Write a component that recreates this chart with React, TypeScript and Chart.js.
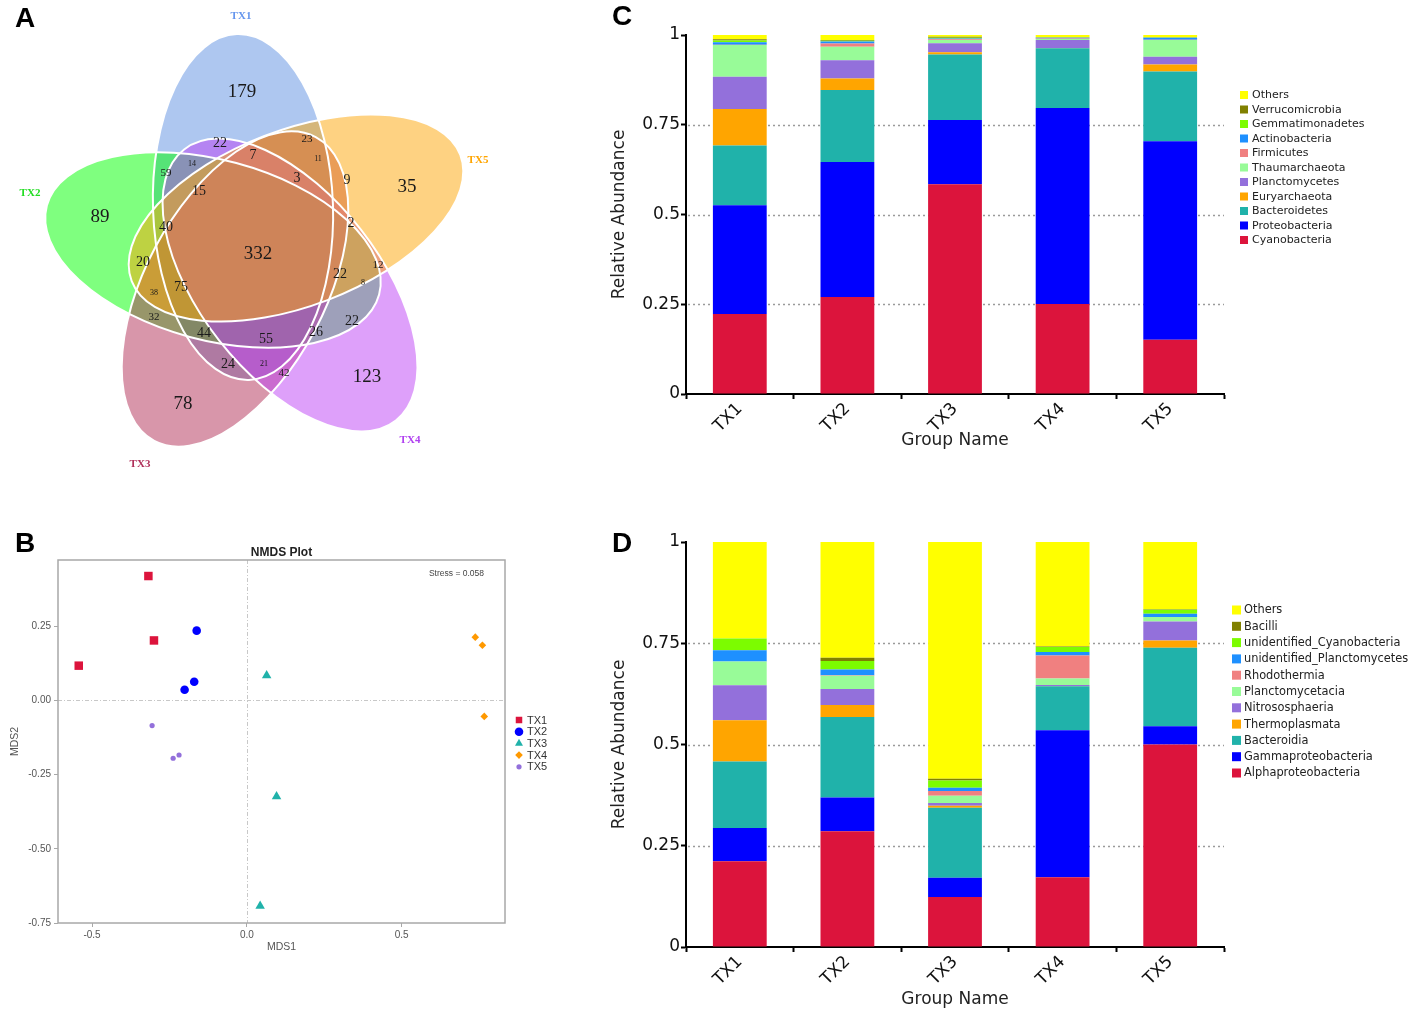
import React, { useEffect, useRef } from 'react';
import { Chart, registerables } from 'chart.js';
import * as helpers from 'chart.js/helpers';

Chart.register(...registerables);

// ---------------- DATA ----------------
const groups = ['TX1', 'TX2', 'TX3', 'TX4', 'TX5'];

// Panel A: Venn counts
const vennSets = ['TX1', 'TX2', 'TX3', 'TX4', 'TX5'];
const vennCounts = [179, 89, 78, 123, 35, 332, 22, 7, 23, 11, 14, 59, 15, 3, 9, 40, 2, 20, 12, 22, 8, 38, 75, 32, 44, 55, 26, 22, 24, 21, 42];

// Panel B: NMDS coordinates
const nmdsTX1 = [{ x: -0.318, y: 0.419 }, { x: -0.300, y: 0.202 }, { x: -0.543, y: 0.117 }];
const nmdsTX2 = [{ x: -0.162, y: 0.235 }, { x: -0.170, y: 0.063 }, { x: -0.201, y: 0.036 }];
const nmdsTX3 = [{ x: 0.064, y: 0.084 }, { x: 0.096, y: -0.324 }, { x: 0.043, y: -0.693 }];
const nmdsTX4 = [{ x: 0.738, y: 0.213 }, { x: 0.761, y: 0.186 }, { x: 0.767, y: -0.054 }];
const nmdsTX5 = [{ x: -0.306, y: -0.085 }, { x: -0.238, y: -0.195 }, { x: -0.219, y: -0.184 }];
const nmdsXTicks = [-0.5, 0, 0.5];
const nmdsYTicks = [-0.75, -0.5, -0.25, 0, 0.25];
const stressValue = 0.058;

// Panel C: phylum level relative abundance
const phylumLabels = ['Cyanobacteria', 'Proteobacteria', 'Bacteroidetes', 'Euryarchaeota', 'Planctomycetes', 'Thaumarchaeota', 'Firmicutes', 'Actinobacteria', 'Gemmatimonadetes', 'Verrucomicrobia', 'Others'];
const pCyanobacteria = [0.223, 0.270, 0.584, 0.251, 0.151];
const pProteobacteria = [0.303, 0.3765, 0.179, 0.546, 0.553];
const pBacteroidetes = [0.166, 0.200, 0.183, 0.166, 0.194];
const pEuryarchaeota = [0.102, 0.0325, 0.006, 0.001, 0.020];
const pPlanctomycetes = [0.090, 0.051, 0.025, 0.022, 0.0215];
const pThaumarchaeota = [0.088, 0.037, 0.009, 0.003, 0.0465];
const pFirmicutes = [0.001, 0.009, 0.002, 0.001, 0.001];
const pActinobacteria = [0.007, 0.006, 0.002, 0.002, 0.0055];
const pGemmatimonadetes = [0.005, 0.002, 0.002, 0.001, 0.0005];
const pVerrucomicrobia = [0.003, 0.002, 0.003, 0.001, 0.0005];
const pOthers = [0.012, 0.014, 0.005, 0.006, 0.0065];

// Panel D: class level relative abundance
const classLabels = ['Alphaproteobacteria', 'Gammaproteobacteria', 'Bacteroidia', 'Thermoplasmata', 'Nitrososphaeria', 'Planctomycetacia', 'Rhodothermia', 'unidentified_Planctomycetes', 'unidentified_Cyanobacteria', 'Bacilli', 'Others'];
const cAlphaproteobacteria = [0.2115, 0.286, 0.1235, 0.172, 0.500];
const cGammaproteobacteria = [0.0825, 0.083, 0.0475, 0.363, 0.045];
const cBacteroidia = [0.164, 0.199, 0.173, 0.1087, 0.194];
const cThermoplasmata = [0.102, 0.0295, 0.005, 0.001, 0.018];
const cNitrososphaeria = [0.086, 0.0395, 0.0066, 0.002, 0.047];
const cPlanctomycetacia = [0.059, 0.033, 0.018, 0.016, 0.011];
const cRhodothermia = [0.0, 0.001, 0.0113, 0.0573, 0.0];
const cUnidPlanctomycetes = [0.0275, 0.014, 0.0084, 0.0084, 0.008];
const cUnidCyanobacteria = [0.0295, 0.021, 0.0181, 0.0123, 0.010];
const cBacilli = [0.0, 0.008, 0.004, 0.001, 0.001];
const cOthers = [0.238, 0.286, 0.5845, 0.2583, 0.166];

const abundanceTicks = [0, 0.25, 0.5, 0.75, 1];

// ---------------- STYLE / LAYOUT ----------------
const taxonColors = ['#DC143C', '#0000FF', '#20B2AA', '#FFA500', '#9370DB', '#98FB98', '#F08080', '#1E90FF', '#7CFC00', '#808000', '#FFFF00'];

const vennFill = ['rgb(93,143,225)', 'rgb(0,255,0)', 'rgb(177,45,85)', 'rgb(189,65,245)', 'rgb(253,165,5)'];
const vennNameColor = ['#6495ED', '#22DD22', '#B0305A', '#B040F0', '#FFA500'];
// ellipse geometry in venn coordinate space: cx, cy, a, b, rotation(deg)
const vennEllipses = [
  [243, 207, 173, 90, 88],
  [213, 250, 172, 90, 15],
  [235, 289, 172, 90, -62],
  [290, 285, 172, 90, 52],
  [296, 218, 176, 88, -21],
];
const vennNamePos = [[241, 16], [30, 193], [140, 464], [410, 440], [478, 160]];
// label positions [x, y, fontSize]
const vennLabelPos = [
  [242, 92, 19], [100, 217, 19], [183, 404, 19], [367, 377, 19], [407, 187, 19], [258, 254, 19],
  [220, 143, 14], [253, 155, 14], [307, 139, 11], [318, 159, 8], [192, 164, 8], [166, 173, 11],
  [199, 191, 14], [297, 178, 14], [347, 180, 14], [166, 227, 14], [351, 223, 14], [143, 262, 14],
  [378, 265, 11], [340, 274, 14], [363, 283, 8], [154, 293, 8], [181, 287, 14], [154, 317, 11],
  [204, 333, 14], [266, 339, 14], [316, 332, 14], [352, 321, 14], [228, 364, 14], [264, 364, 8],
  [284, 373, 11],
];

const nmdsStyles = [
  { color: '#DC143C', pointStyle: 'rect', radius: 6 },
  { color: '#0000FF', pointStyle: 'circle', radius: 4.3 },
  { color: '#20B2AA', pointStyle: 'triangle', radius: 5.5 },
  { color: '#FF9900', pointStyle: 'rectRot', radius: 3.8 },
  { color: '#9370DB', pointStyle: 'circle', radius: 2.6 },
];

const SANS = '"DejaVu Sans", sans-serif';
const LSANS = '"Liberation Sans", Arial, sans-serif';
const SERIF = '"Liberation Serif", "DejaVu Serif", serif';

// ---------------- PLUGINS ----------------
const vennPlugin = {
  id: 'vennShapes',
  beforeDatasetsDraw(chart: any) {
    const { ctx } = chart;
    const xs = chart.scales.x;
    const ys = chart.scales.y;
    const k = xs.getPixelForValue(1) - xs.getPixelForValue(0);
    const path = (e: number[]) => {
      ctx.beginPath();
      ctx.ellipse(xs.getPixelForValue(e[0]), ys.getPixelForValue(e[1]), e[2] * k, e[3] * k, (e[4] * Math.PI) / 180, 0, Math.PI * 2);
    };
    ctx.save();
    vennEllipses.forEach((e, i) => {
      path(e);
      ctx.globalAlpha = 0.5;
      ctx.fillStyle = vennFill[i];
      ctx.fill();
    });
    ctx.globalAlpha = 1;
    ctx.strokeStyle = '#ffffff';
    ctx.lineWidth = 2;
    vennEllipses.forEach((e) => {
      path(e);
      ctx.stroke();
    });
    ctx.restore();
  },
  afterDatasetsDraw(chart: any) {
    const { ctx } = chart;
    const meta = chart.getDatasetMeta(0);
    ctx.save();
    ctx.textAlign = 'center';
    ctx.textBaseline = 'middle';
    ctx.fillStyle = '#1a1a1a';
    meta.data.forEach((pt: any, i: number) => {
      ctx.font = `${vennLabelPos[i][2]}px ${SERIF}`;
      ctx.fillText(String(vennCounts[i]), pt.x, pt.y);
    });
    const xs = chart.scales.x;
    const ys = chart.scales.y;
    ctx.font = `bold 11px ${SERIF}`;
    vennSets.forEach((n, i) => {
      ctx.fillStyle = vennNameColor[i];
      ctx.fillText(n, xs.getPixelForValue(vennNamePos[i][0]), ys.getPixelForValue(vennNamePos[i][1]));
    });
    ctx.restore();
  },
};

function dashedGrid(values: number[]) {
  return {
    id: 'dashedGrid',
    beforeDatasetsDraw(chart: any) {
      const { ctx, chartArea } = chart;
      const y = chart.scales.y;
      ctx.save();
      ctx.strokeStyle = '#9a9a9a';
      ctx.lineWidth = 1.6;
      ctx.setLineDash([2, 3]);
      values.forEach((v) => {
        const py = Math.round(y.getPixelForValue(v)) + 0.5;
        ctx.beginPath();
        ctx.moveTo(chartArea.left + 2, py);
        ctx.lineTo(chartArea.right, py);
        ctx.stroke();
      });
      ctx.restore();
    },
  };
}

function boxLegend(dx: number, dy: number, step: number, box: number, gap: number, fontSize: number) {
  return {
    id: 'boxLegend',
    afterDraw(chart: any) {
      const { ctx, chartArea } = chart;
      const x = chartArea.right + dx;
      const y0 = chartArea.top + dy;
      const ds = chart.data.datasets.slice().reverse();
      ctx.save();
      ctx.font = `${fontSize}px ${SANS}`;
      ctx.textBaseline = 'middle';
      ctx.textAlign = 'left';
      ds.forEach((d: any, i: number) => {
        const cy = y0 + i * step;
        ctx.fillStyle = d.backgroundColor;
        ctx.fillRect(x, cy - box / 2, box, box);
        ctx.fillStyle = '#222';
        ctx.fillText(d.label, x + box + gap, cy + 0.5);
      });
      ctx.restore();
    },
  };
}

const nmdsDecor = {
  id: 'nmdsDecor',
  beforeDatasetsDraw(chart: any) {
    const { ctx, chartArea } = chart;
    const xs = chart.scales.x;
    const ys = chart.scales.y;
    ctx.save();
    ctx.strokeStyle = '#c8c8c8';
    ctx.lineWidth = 1;
    ctx.setLineDash([4, 2, 1, 2]);
    const px = Math.round(xs.getPixelForValue(0)) + 0.5;
    const py = Math.round(ys.getPixelForValue(0)) + 0.5;
    ctx.beginPath();
    ctx.moveTo(px, chartArea.top);
    ctx.lineTo(px, chartArea.bottom);
    ctx.moveTo(chartArea.left, py);
    ctx.lineTo(chartArea.right, py);
    ctx.stroke();
    ctx.setLineDash([]);
    ctx.strokeStyle = '#a8a8a8';
    ctx.lineWidth = 1.5;
    ctx.strokeRect(chartArea.left, chartArea.top, chartArea.right - chartArea.left, chartArea.bottom - chartArea.top);
    ctx.fillStyle = '#222';
    ctx.font = `bold 12px ${LSANS}`;
    ctx.textAlign = 'center';
    ctx.textBaseline = 'middle';
    ctx.fillText('NMDS Plot', (chartArea.left + chartArea.right) / 2, chartArea.top - 7);
    ctx.font = `8.5px ${LSANS}`;
    ctx.fillStyle = '#444';
    ctx.textAlign = 'right';
    ctx.fillText(`Stress = ${stressValue.toFixed(3)}`, chartArea.right - 21, chartArea.top + 14);
    ctx.restore();
  },
  afterDraw(chart: any) {
    const { ctx, chartArea } = chart;
    const x = chartArea.right + 14;
    const y0 = chartArea.top + 160;
    ctx.save();
    ctx.font = `11px ${LSANS}`;
    ctx.textBaseline = 'middle';
    ctx.textAlign = 'left';
    chart.data.datasets.forEach((d: any, i: number) => {
      const cy = y0 + i * 11.7;
      ctx.fillStyle = d.backgroundColor;
      const r = Math.min(d.pointRadius, 4.6);
      helpers.drawPoint(ctx, { pointStyle: d.pointStyle, radius: d.pointStyle === 'circle' && i === 4 ? 2.6 : r, rotation: 0, borderWidth: 0 }, x, cy);
      ctx.fillStyle = '#333';
      ctx.fillText(d.label, x + 8, cy + 0.5);
    });
    ctx.restore();
  },
};

// ---------------- CONFIG BUILDERS ----------------
function vennConfig(): any {
  return {
    type: 'scatter',
    data: { datasets: [{ data: vennLabelPos.map((p) => ({ x: p[0], y: p[1] })), pointRadius: 0 }] },
    options: {
      animation: false,
      responsive: false,
      events: [],
      layout: { padding: 0 },
      scales: {
        x: { type: 'linear', display: false, min: 0, max: 500 },
        y: { type: 'linear', display: false, min: 0, max: 480, reverse: true },
      },
      plugins: { legend: { display: false }, tooltip: { enabled: false } },
    },
    plugins: [vennPlugin],
  };
}

function nmdsConfig(): any {
  const series = [nmdsTX1, nmdsTX2, nmdsTX3, nmdsTX4, nmdsTX5];
  const tickFont = { family: LSANS, size: 10 };
  return {
    type: 'scatter',
    data: {
      datasets: series.map((d, i) => ({
        label: groups[i],
        data: d,
        backgroundColor: nmdsStyles[i].color,
        borderWidth: 0,
        pointStyle: nmdsStyles[i].pointStyle,
        pointRadius: nmdsStyles[i].radius,
      })),
    },
    options: {
      animation: false,
      responsive: false,
      events: [],
      layout: { padding: { left: 0, right: 55, top: 30, bottom: 0 } },
      scales: {
        x: {
          type: 'linear',
          min: -0.61,
          max: 0.834,
          afterBuildTicks: (s: any) => { s.ticks = nmdsXTicks.map((v) => ({ value: v })); },
          afterFit: (s: any) => { s.height = 47; },
          grid: { display: true, drawOnChartArea: false, tickLength: 4, tickColor: '#a8a8a8', tickWidth: 1 },
          border: { display: false },
          ticks: { callback: (v: any) => Number(v).toFixed(1), font: tickFont, color: '#555', padding: 2, maxRotation: 0 },
          title: { display: true, text: 'MDS1', font: { family: LSANS, size: 10.5 }, color: '#555', padding: { top: 0, bottom: 17 } },
        },
        y: {
          type: 'linear',
          min: -0.75,
          max: 0.473,
          afterBuildTicks: (s: any) => { s.ticks = nmdsYTicks.map((v) => ({ value: v })); },
          afterFit: (s: any) => { s.width = 58; },
          grid: { display: true, drawOnChartArea: false, tickLength: 4, tickColor: '#a8a8a8', tickWidth: 1 },
          border: { display: false },
          ticks: { callback: (v: any) => Number(v).toFixed(2), font: tickFont, color: '#555', padding: 3 },
          title: { display: true, text: 'MDS2', font: { family: LSANS, size: 10.5 }, color: '#555', padding: { top: 9, bottom: 0 } },
        },
      },
      plugins: { legend: { display: false }, tooltip: { enabled: false } },
    },
    plugins: [nmdsDecor],
  };
}

function stackConfig(labels: string[], series: number[][], opts: any): any {
  const tickFont = { family: SANS, size: 17 };
  return {
    type: 'bar',
    data: {
      labels: groups,
      datasets: labels.map((l, i) => ({
        label: l,
        data: series[i],
        backgroundColor: taxonColors[i],
        borderWidth: 0,
        barPercentage: 0.5,
        categoryPercentage: 1,
      })),
    },
    options: {
      animation: false,
      responsive: false,
      events: [],
      layout: { padding: { left: 0, right: opts.right, top: opts.top, bottom: 0 } },
      scales: {
        x: {
          stacked: true,
          afterFit: (s: any) => { s.height = opts.xHeight; },
          grid: { display: true, drawOnChartArea: false, offset: true, tickLength: 5, tickColor: '#000', tickWidth: 2 },
          border: { display: true, color: '#000', width: 2 },
          ticks: { font: tickFont, color: '#111', minRotation: 45, maxRotation: 45, padding: 0 },
          title: { display: true, text: 'Group Name', font: { family: SANS, size: 17 }, color: '#222', padding: { top: 0, bottom: opts.titlePad } },
        },
        y: {
          stacked: true,
          min: 0,
          max: 1,
          afterBuildTicks: (s: any) => { s.ticks = abundanceTicks.map((v) => ({ value: v })); },
          afterFit: (s: any) => { s.width = 86; },
          grid: { display: true, drawOnChartArea: false, tickLength: 5, tickColor: '#000', tickWidth: 2 },
          border: { display: true, color: '#000', width: 2 },
          ticks: { callback: (v: any) => String(v), font: tickFont, color: '#111', padding: 1 },
          title: { display: true, text: 'Relative Abundance', font: { family: SANS, size: 17 }, color: '#222', padding: { top: 9, bottom: 0 } },
        },
      },
      plugins: { legend: { display: false }, tooltip: { enabled: false } },
    },
    plugins: [dashedGrid([0.25, 0.5, 0.75]), boxLegend(opts.lx, opts.ly, opts.lstep, opts.lbox, opts.lgap, opts.lfont)],
  };
}

// ---------------- COMPONENTS ----------------
function ChartCanvas({ left, top, width, height, build }: any) {
  const ref = useRef<HTMLCanvasElement>(null);
  useEffect(() => {
    const chart = new Chart(ref.current as HTMLCanvasElement, build());
    return () => chart.destroy();
  }, []);
  return (
    <canvas
      ref={ref}
      width={width}
      height={height}
      style={{ position: 'absolute', left, top, width, height }}
    />
  );
}

const letterStyle: any = {
  position: 'absolute',
  fontFamily: LSANS,
  fontWeight: 'bold',
  fontSize: 28,
  lineHeight: '28px',
  color: '#000',
};

export default function App() {
  const phylumSeries = [pCyanobacteria, pProteobacteria, pBacteroidetes, pEuryarchaeota, pPlanctomycetes, pThaumarchaeota, pFirmicutes, pActinobacteria, pGemmatimonadetes, pVerrucomicrobia, pOthers];
  const classSeries = [cAlphaproteobacteria, cGammaproteobacteria, cBacteroidia, cThermoplasmata, cNitrososphaeria, cPlanctomycetacia, cRhodothermia, cUnidPlanctomycetes, cUnidCyanobacteria, cBacilli, cOthers];
  return (
    <div style={{ position: 'absolute', left: 0, top: 0, width: 1417, height: 1021, background: '#fff', overflow: 'hidden' }}>
      <ChartCanvas left={0} top={0} width={500} height={480} build={vennConfig} />
      <ChartCanvas left={0} top={530} width={560} height={440} build={nmdsConfig} />
      <ChartCanvas
        left={600}
        top={0}
        width={817}
        height={470}
        build={() => stackConfig(phylumLabels, phylumSeries, { right: 193, top: 35, xHeight: 76, titlePad: 19, lx: 16, ly: 60, lstep: 14.5, lbox: 8, lgap: 4, lfont: 11 })}
      />
      <ChartCanvas
        left={600}
        top={530}
        width={817}
        height={491}
        build={() => stackConfig(classLabels, classSeries, { right: 193, top: 12, xHeight: 74, titlePad: 11, lx: 8, ly: 68, lstep: 16.3, lbox: 9, lgap: 3, lfont: 11.4 })}
      />
      <div style={{ ...letterStyle, left: 15, top: 4 }}>A</div>
      <div style={{ ...letterStyle, left: 15, top: 529 }}>B</div>
      <div style={{ ...letterStyle, left: 612, top: 2 }}>C</div>
      <div style={{ ...letterStyle, left: 612, top: 529 }}>D</div>
    </div>
  );
}
